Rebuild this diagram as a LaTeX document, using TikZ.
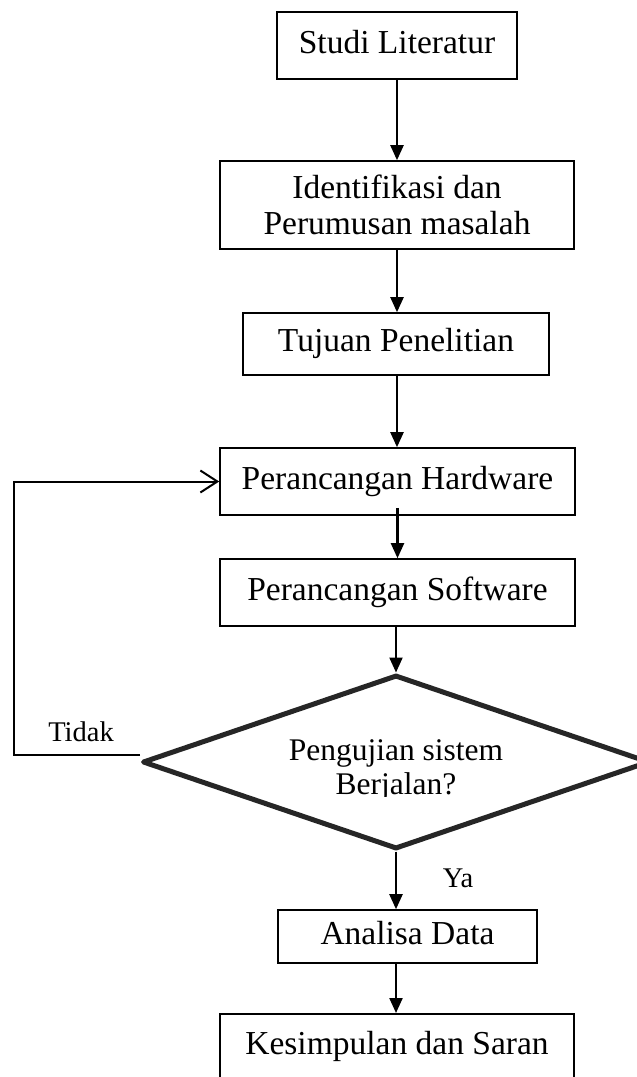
\documentclass[tikz,border=0pt]{standalone}
\usepackage{fontspec}
\setmainfont{Liberation Serif}
\usetikzlibrary{arrows.meta,shapes.geometric,calc}
\definecolor{dgray}{RGB}{38,38,38}
\begin{document}
\begin{tikzpicture}[x=1pt,y=-1pt,
  box/.style={draw=black,line width=1.6pt,inner sep=0pt,minimum width=#1,align=center,
    font=\fontsize{33.5}{36}\selectfont},
  one/.style={text height=23pt,text depth=7.5pt},
  dtext/.style={inner sep=0pt,font=\fontsize{31.5}{34}\selectfont},
  ltext/.style={inner sep=0pt,font=\fontsize{28.5}{32}\selectfont},
  arr/.style={line width=2.2pt,-{Triangle[length=15pt,width=13pt]}},
  fb/.style={line width=2pt,-{Straight Barb[length=17pt,width=22pt,line width=2pt]}},
  dec/.style={diamond,draw=dgray,line width=5pt,line join=round,inner sep=0pt,
    minimum width=507pt,minimum height=174pt}
]
\clip (0,0) rectangle (637,1077);
\fill[white] (0,0) rectangle (637,1077);

\node[box=240pt,one,minimum height=67pt] (sl) at (397,45.5) {Studi Literatur};
\node[box=354pt,minimum height=88pt] (ip) at (397,205) {Identifikasi dan\\Perumusan masalah};
\node[box=306pt,one,minimum height=62pt] (tp) at (396,344) {Tujuan Penelitian};
\node[box=355pt,one,minimum height=67pt] (hw) at (397.5,481.5) {Perancangan Hardware};
\node[box=355pt,one,minimum height=67pt] (sw) at (397.5,592.5) {Perancangan Software};
\node[dec] (dia) at (396,762) {};
\begin{scope}
  \clip (200,700) rectangle (600,796);
  \node[dtext,anchor=base] (q1) at (396,760) {Pengujian sistem};
  \node[dtext,anchor=base] (q2) at (396,794) {Berjalan?};
\end{scope}
\node[box=259pt,one,minimum height=53pt] (ad) at (407.5,936.5) {Analisa Data};
\node[box=354pt,one,minimum height=66pt,anchor=north] (ks) at (397,1013) {Kesimpulan dan Saran};

\node[ltext,anchor=base] (tidak) at (81,741) {Tidak};
\node[ltext,anchor=base] (ya) at (458,887) {Ya};

\draw[arr] (sl.south |- sl.south) -- (sl.south |- ip.north);
\draw[arr] (ip.south) -- (ip.south |- tp.north);
\draw[arr] (tp.south -| ip.south) -- (ip.south |- hw.north);
\draw[arr] ($(hw.south)+(0,-8)$) -- (hw.south |- sw.north);
\draw[arr] (sw.south -| dia.north) -- (dia.north);
\draw[arr] (dia.south) -- (dia.south |- ad.north);
\draw[arr] (ad.south -| dia.south) -- (dia.south |- ks.north);

\coordinate (fbc) at (14,755);
\draw[fb] ($(dia.west)+(0,-7)$) -- (fbc) |- (hw.west);
\end{tikzpicture}
\end{document}
